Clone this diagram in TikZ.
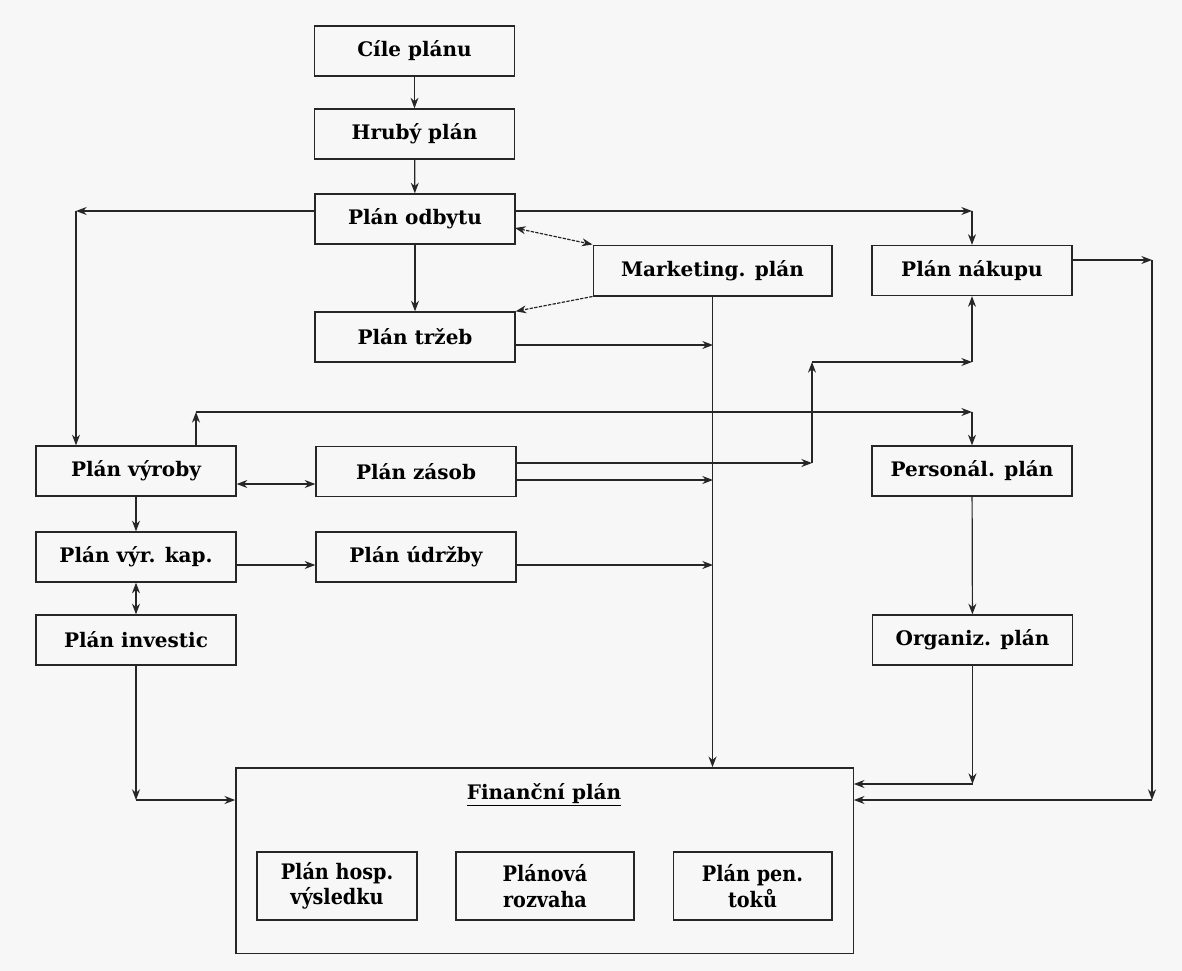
\documentclass[tikz,border=0pt]{standalone}
\usepackage{fontspec}
\setmainfont{DejaVu Serif}
\newfontfamily\condfont{DejaVu Serif Condensed}
\usetikzlibrary{arrows.meta}
\tikzset{
  plan/.style={draw=black!85, line width=1pt, fill=white!97!black,
    font=\fontsize{15}{17}\selectfont\bfseries,
    minimum width=150pt, minimum height=37.5pt, inner sep=2pt},
  subplan/.style={plan, font=\fontsize{16}{19}\selectfont\condfont\bfseries,
    align=center, minimum height=51pt},
  link/.style={draw=black!85, line width=0.9pt, -{Stealth[length=8pt,width=6pt]}},
  duo/.style={link, {Stealth[length=8pt,width=6pt]}-{Stealth[length=8pt,width=6pt]}},
  dashlink/.style={link, dash pattern=on 2.5pt off 1pt}
}

\begin{document}
\begin{tikzpicture}[x=0.75pt,y=-0.75pt]
  \fill[white!97!black] (0,0) rectangle (1182,971);
  \useasboundingbox (0,0) rectangle (1182,971);

  % upper chain
  \node[plan] (cile) at (414.5,51) {Cíle plánu};
  \node[plan] (hruby) at (414.5,134) {Hrubý plán};
  \node[plan] (odbytu) at (415,219) {Plán odbytu};
  \node[plan] (trzeb) at (415,337) {Plán tržeb};
  \node[plan, minimum width=179pt, minimum height=38pt] (marketing) at (712.5,270.5) {Marketing. plán};
  \node[plan] (nakupu) at (972,270.5) {Plán nákupu};

  % production side
  \node[plan] (vyroby) at (136,471) {Plán výroby};
  \node[plan] (zasob) at (416,471.5) {Plán zásob};
  \node[plan] (vyrkap) at (136,557) {Plán výr. kap.};
  \node[plan] (udrzby) at (416,557) {Plán údržby};
  \node[plan] (investic) at (136,640) {Plán investic};

  % staff side
  \node[plan] (personal) at (972,471) {Personál. plán};
  \node[plan] (organiz) at (972.5,640) {Organiz. plán};

  % finance
  \node[plan, minimum width=463pt, minimum height=139pt] (financ) at (544.5,860.5) {};
  \node[font=\fontsize{15}{17}\selectfont\bfseries] (fintitle) at (544,795) {\underline{Finanční plán}};
  \node[subplan, minimum width=120pt] (hosp) at (337,886) {Plán hosp.\\výsledku};
  \node[subplan, minimum width=133.5pt] (rozvaha) at (545,886) {Plánová\\rozvaha};
  \node[subplan, minimum width=119pt] (penez) at (752.5,886) {Plán pen.\\toků};

  % corners
  \coordinate (odL) at (76,211);
  \coordinate (odR) at (972,211);
  \coordinate (mk1) at (515,228);
  \coordinate (tz) at (713,345);
  \coordinate (nkR) at (1152,260);
  \coordinate (nkD) at (1152,800);
  \coordinate (vyU) at (196,412);
  \coordinate (vyR) at (972,412);
  \coordinate (vz) at (0,484);
  \coordinate (zsA) at (812,463);
  \coordinate (zsB) at (812,362);
  \coordinate (zsC) at (972,362);
  \coordinate (zsF) at (713,480);
  \coordinate (ku) at (0,565);
  \coordinate (udF) at (713,565);
  \coordinate (ivD) at (136,800);
  \coordinate (orD) at (972.5,784);

  \draw[link] (cile) -- (hruby);
  \draw[link] (hruby) -- (odbytu);
  \draw[link] (odbytu) -- (trzeb);
  \draw[link] (odL -| odbytu.west) -- (odL);
  \draw[link] (odL) -- (vyroby.north -| odL);
  \draw[link] (odR -| odbytu.east) -- (odR);
  \draw[link] (odR) -- (nakupu.north -| odR);

  \draw[dashlink, {Stealth[length=8pt,width=6pt]}-{Stealth[length=8pt,width=6pt]}] (mk1) -- (marketing.north west);
  \draw[dashlink] (marketing.south west) -- (trzeb.north east);

  \draw[link] (marketing.south) -- (marketing.south |- financ.north);
  \draw[link] (tz -| trzeb.east) -- (tz);

  \draw[link] (nkR -| nakupu.east) -- (nkR);
  \draw[link] (nkR) -- (nkD);
  \draw[link] (nkD) -- (nkD -| financ.east);

  \draw[link] (vyU |- vyroby.north) -- (vyU);
  \draw[link] (vyU) -- (vyR);
  \draw[link] (vyR) -- (personal.north -| vyR);

  \draw[duo] (vz -| vyroby.east) -- (vz -| zasob.west);
  \draw[link] (zsA -| zasob.east) -- (zsA);
  \draw[link] (zsA) -- (zsB);
  \draw[link] (zsB) -- (zsC);
  \draw[link] (zsC) -- (nakupu.south -| zsC);
  \draw[link] (zsF -| zasob.east) -- (zsF);

  \draw[link] (vyroby) -- (vyrkap);
  \draw[link] (ku -| vyrkap.east) -- (ku -| udrzby.west);
  \draw[link] (udF -| udrzby.east) -- (udF);
  \draw[duo] (vyrkap) -- (investic);
  \draw[link] (investic) -- (ivD);
  \draw[link] (ivD) -- (ivD -| financ.west);

  \draw[link] (personal) -- (organiz);
  \draw[link] (organiz) -- (orD);
  \draw[link] (orD) -- (orD -| financ.east);
\end{tikzpicture}
\end{document}
